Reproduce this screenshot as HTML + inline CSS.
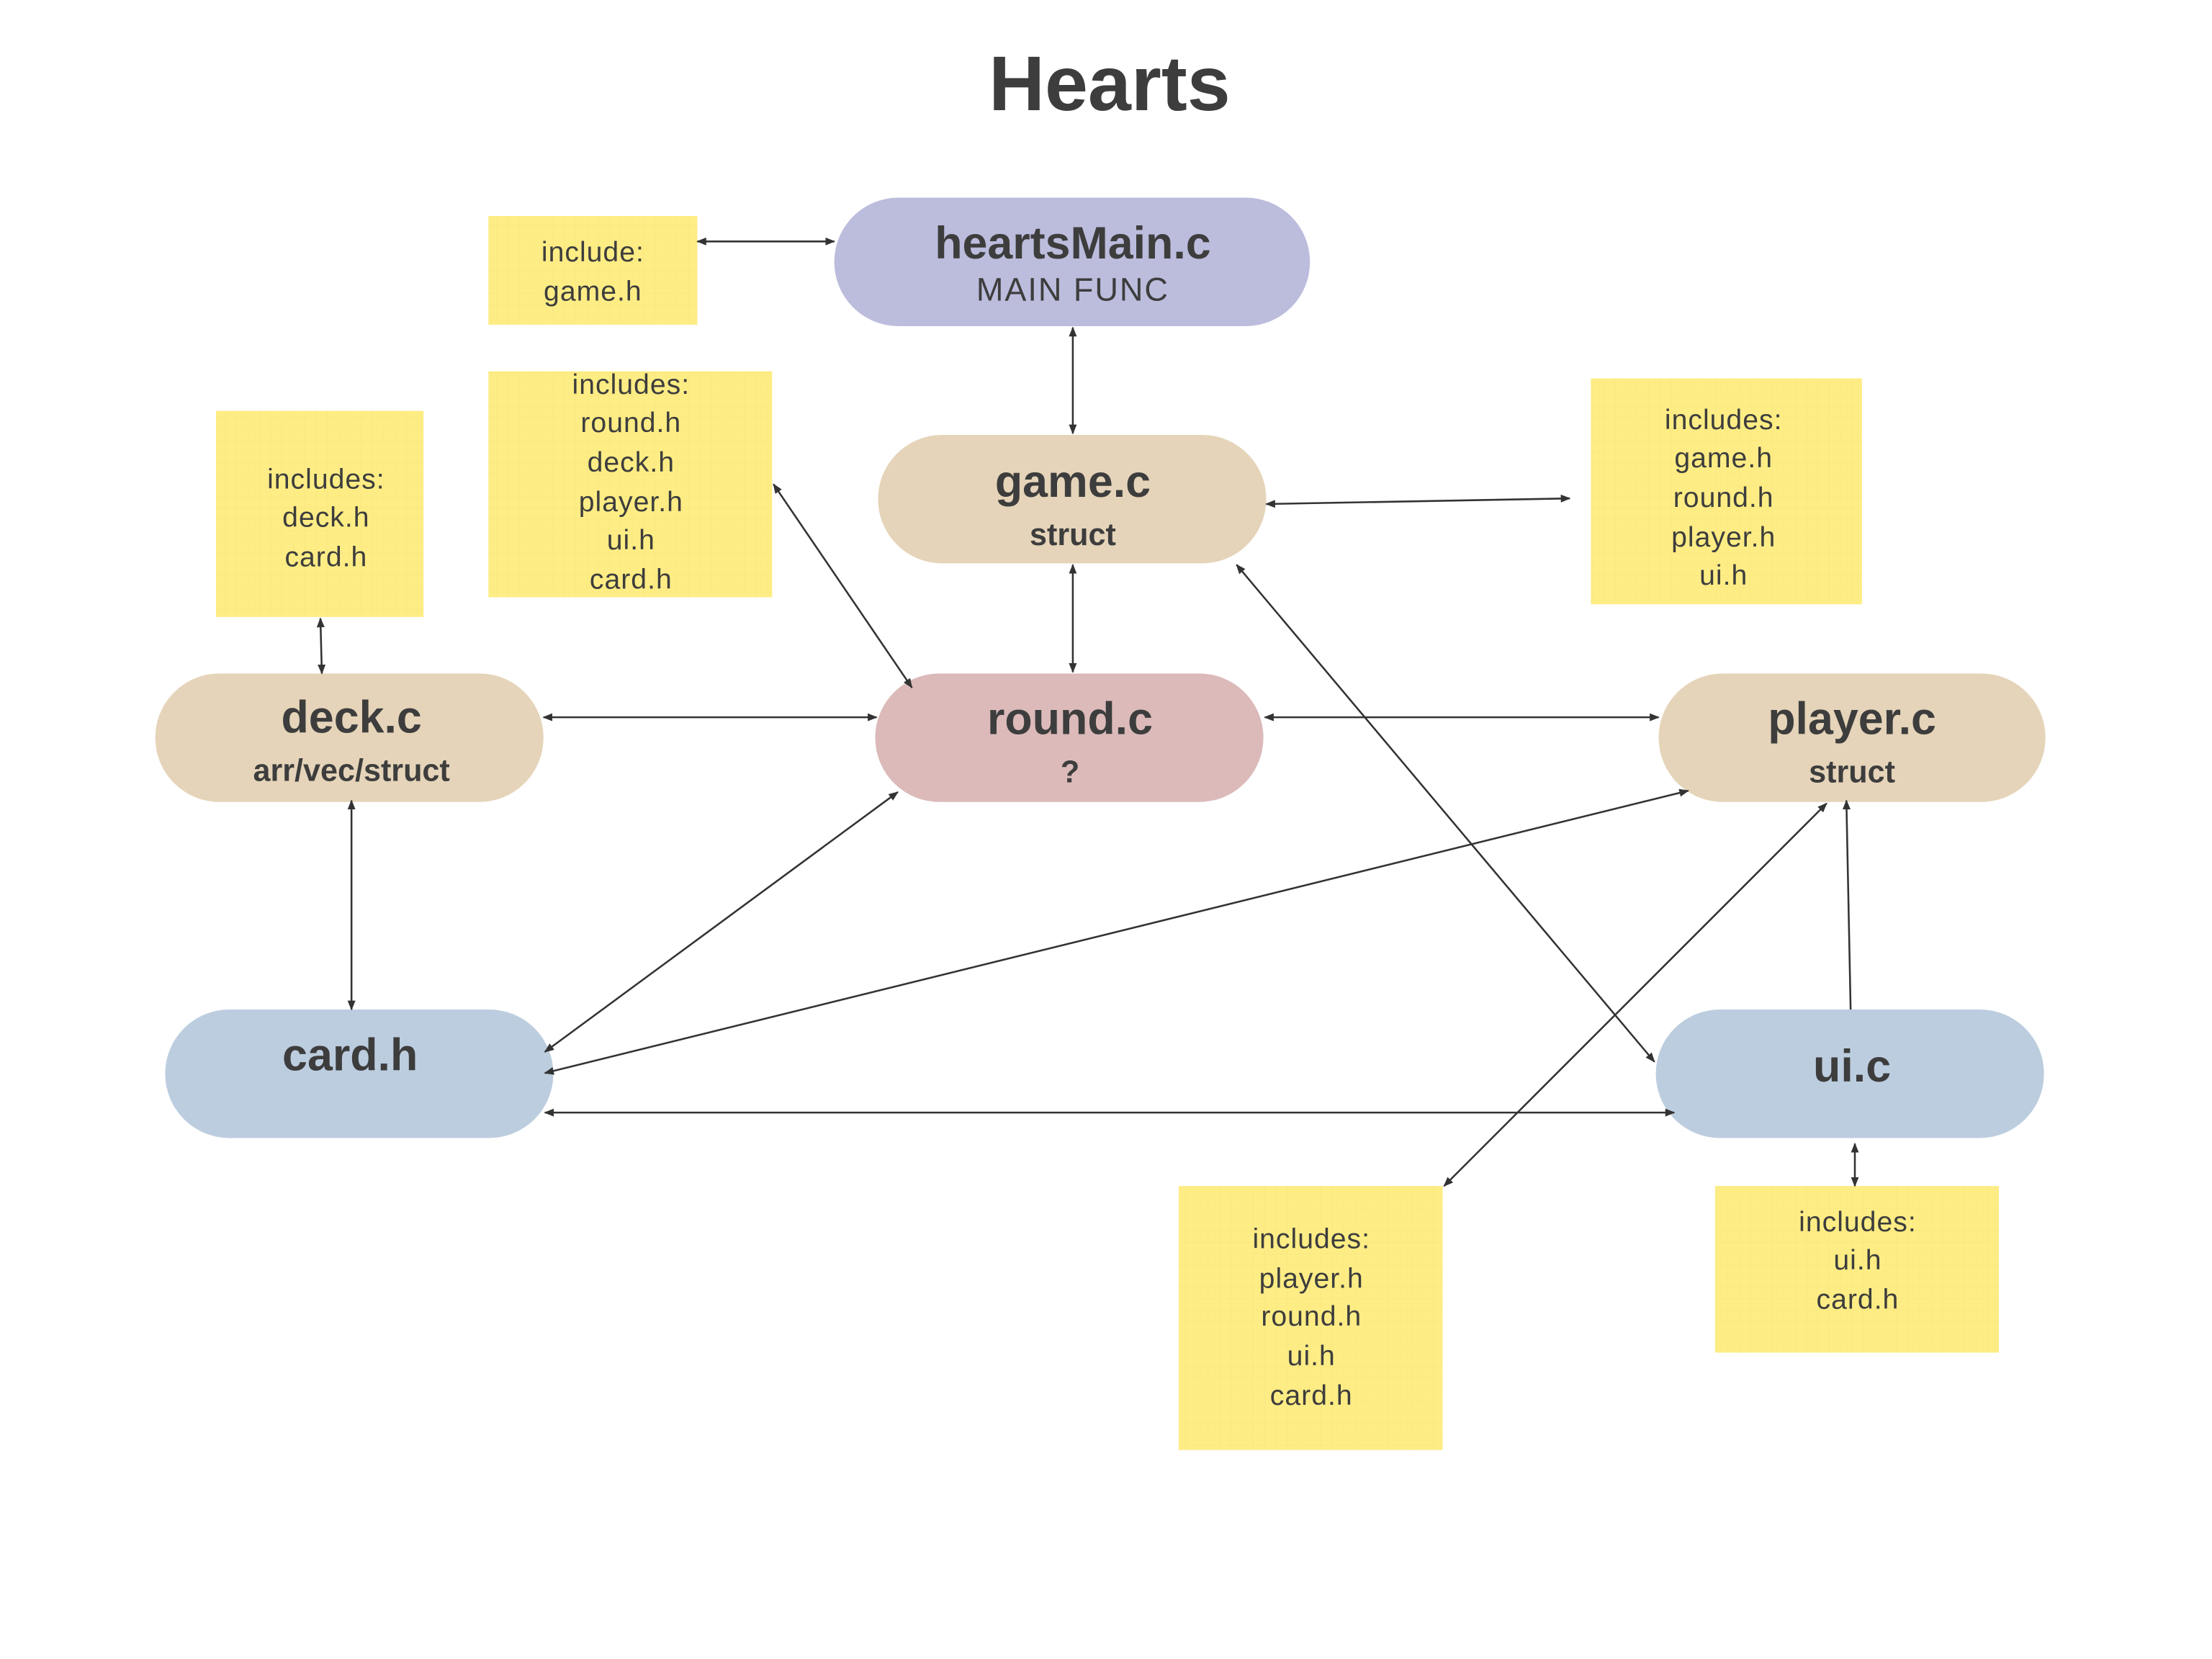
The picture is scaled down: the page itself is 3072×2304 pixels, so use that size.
<!DOCTYPE html>
<html><head><meta charset="utf-8"><style>
html,body{margin:0;padding:0;background:#fff;}
svg{display:block;}
text{font-family:"Liberation Sans",sans-serif;fill:#3d3d3d;text-anchor:middle;}
.b{font-weight:bold;}
.n{font-size:20px;letter-spacing:0.5px;}
</style></head><body>
<svg width="3072" height="2304" viewBox="0 0 1567 1175" preserveAspectRatio="none" xmlns="http://www.w3.org/2000/svg">
<defs>
<marker id="a" viewBox="0 0 10 10" refX="9" refY="5" markerWidth="7" markerHeight="7" orient="auto-start-reverse" markerUnits="userSpaceOnUse">
<path d="M0,1 L10,5 L0,9 z" fill="#333"/></marker>
<pattern id="g" width="8" height="8" patternUnits="userSpaceOnUse">
<rect width="8" height="8" fill="#feed85"/><path d="M8 0V8M0 8H8" stroke="#f8e57e" stroke-width="0.6"/></pattern>
</defs>
<rect width="1567" height="1175" fill="#fff"/>
<text x="786" y="78" class="b" style="font-size:55px">Hearts</text>

<rect x="346" y="153" width="148" height="77" fill="url(#g)"/>
<text class="n" x="420" y="185">include:</text><text class="n" x="420" y="213">game.h</text>

<rect x="346" y="263" width="201" height="160" fill="url(#g)"/>
<text class="n" x="447" y="279">includes:</text><text class="n" x="447" y="306">round.h</text><text class="n" x="447" y="334">deck.h</text><text class="n" x="447" y="362">player.h</text><text class="n" x="447" y="389">ui.h</text><text class="n" x="447" y="417">card.h</text>

<rect x="1127" y="268" width="192" height="160" fill="url(#g)"/>
<text class="n" x="1221" y="304">includes:</text><text class="n" x="1221" y="331">game.h</text><text class="n" x="1221" y="359">round.h</text><text class="n" x="1221" y="387">player.h</text><text class="n" x="1221" y="414">ui.h</text>

<rect x="153" y="291" width="147" height="146" fill="url(#g)"/>
<text class="n" x="231" y="346">includes:</text><text class="n" x="231" y="373">deck.h</text><text class="n" x="231" y="401">card.h</text>

<rect x="835" y="840" width="187" height="187" fill="url(#g)"/>
<text class="n" x="929" y="884">includes:</text><text class="n" x="929" y="912">player.h</text><text class="n" x="929" y="939">round.h</text><text class="n" x="929" y="967">ui.h</text><text class="n" x="929" y="995">card.h</text>

<rect x="1215" y="840" width="201" height="118" fill="url(#g)"/>
<text class="n" x="1316" y="872">includes:</text><text class="n" x="1316" y="899">ui.h</text><text class="n" x="1316" y="927">card.h</text>

<rect x="591" y="140" width="337" height="91" rx="45.5" fill="#bcbcdd"/>
<text x="760" y="183" class="b" style="font-size:32px">heartsMain.c</text>
<text x="760" y="213" style="font-size:23px;letter-spacing:1px">MAIN FUNC</text>

<rect x="622" y="308" width="275" height="91" rx="45.5" fill="#e5d4b9"/>
<text x="760" y="352" class="b" style="font-size:32px">game.c</text>
<text x="760" y="386" class="b" style="font-size:22px">struct</text>

<rect x="110" y="477" width="275" height="91" rx="45.5" fill="#e5d4b9"/>
<text x="249" y="519" class="b" style="font-size:32px">deck.c</text>
<text x="249" y="553" class="b" style="font-size:22px">arr/vec/struct</text>

<rect x="620" y="477" width="275" height="91" rx="45.5" fill="#dcbaba"/>
<text x="758" y="520" class="b" style="font-size:32px">round.c</text>
<text x="758" y="554" class="b" style="font-size:22px">?</text>

<rect x="1175" y="477" width="274" height="91" rx="45.5" fill="#e5d4b9"/>
<text x="1312" y="520" class="b" style="font-size:32px">player.c</text>
<text x="1312" y="554" class="b" style="font-size:22px">struct</text>

<rect x="117" y="715" width="275" height="91" rx="45.5" fill="#bccddf"/>
<text x="248" y="758" class="b" style="font-size:32px">card.h</text>

<rect x="1173" y="715" width="275" height="91" rx="45.5" fill="#bccddf"/>
<text x="1312" y="766" class="b" style="font-size:32px">ui.c</text>

<g stroke="#333" stroke-width="1.3" fill="none" marker-start="url(#a)" marker-end="url(#a)">
<line x1="494" y1="171" x2="591" y2="171"/>
<line x1="760" y1="232" x2="760" y2="307"/>
<line x1="897" y1="357" x2="1112" y2="353"/>
<line x1="760" y1="400" x2="760" y2="476"/>
<line x1="548" y1="343" x2="646" y2="487"/>
<line x1="876" y1="400" x2="1172" y2="752"/>
<line x1="227" y1="438" x2="228" y2="477"/>
<line x1="385" y1="508" x2="621" y2="508"/>
<line x1="896" y1="508" x2="1175" y2="508"/>
<line x1="249" y1="567" x2="249" y2="715"/>
<line x1="636" y1="561" x2="386" y2="745"/>
<line x1="1196" y1="560" x2="386" y2="760"/>
<line x1="1294" y1="569" x2="1023" y2="840"/>
<line x1="386" y1="788" x2="1186" y2="788"/>
<line x1="1314" y1="810" x2="1314" y2="840"/>
</g>
<line x1="1311" y1="715" x2="1308" y2="567" stroke="#333" stroke-width="1.3" marker-end="url(#a)"/>
</svg>
</body></html>
